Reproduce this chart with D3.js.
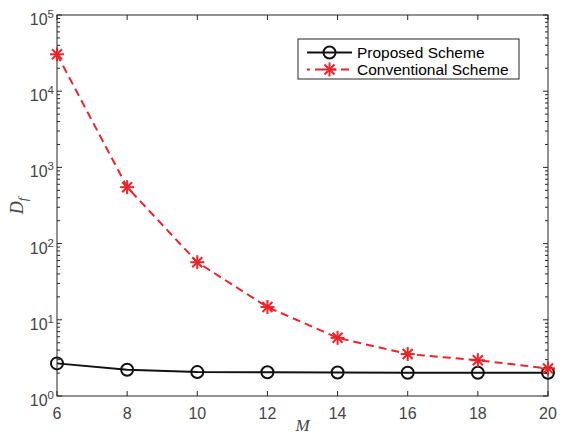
<!DOCTYPE html>
<html>
<head>
<meta charset="utf-8">
<script src="https://cdn.jsdelivr.net/npm/d3@7"></script>
<style>
  body { margin: 0; background: #fff; }
</style>
</head>
<body>
<script>
// data
const mValues = [6, 8, 10, 12, 14, 16, 18, 20];
const proposed = [2.68, 2.21, 2.06, 2.05, 2.03, 2.02, 2.02, 2.02];
const conventional = [30500, 550, 57, 14.7, 5.8, 3.55, 2.95, 2.3];
const xTicks = [6, 8, 10, 12, 14, 16, 18, 20];
const yExponents = [0, 1, 2, 3, 4, 5];
const seriesNames = ["Proposed Scheme", "Conventional Scheme"];

const width = 561, height = 435;
const margin = { left: 57, right: 13, top: 15, bottom: 39 };
const axisColor = "#262626";
const labelColor = "#454545";
const red = "#ee2229";
const sans = "'Liberation Sans', Arial, sans-serif";
const serif = "'Liberation Serif', 'Times New Roman', serif";

var svg = d3
  .select("body")
  .append("svg")
  .attr("width", width)
  .attr("height", height);

var x = d3.scaleLinear().domain([6, 20]).range([margin.left, width - margin.right]);
var y = d3.scaleLog().domain([1, 1e5]).range([height - margin.bottom, margin.top]);

// minor tick values 2..9 x 10^k
var minorTicks = [];
for (let k = 0; k < 5; k++) {
  for (let m = 2; m <= 9; m++) minorTicks.push(m * Math.pow(10, k));
}

var x0 = margin.left, x1 = width - margin.right;
var y0 = height - margin.bottom, y1 = margin.top;

var axes = svg.append("g").attr("stroke", axisColor).attr("stroke-width", 1);

// box
axes
  .append("rect")
  .attr("x", x0)
  .attr("y", y1)
  .attr("width", x1 - x0)
  .attr("height", y0 - y1)
  .attr("fill", "none");

// x ticks, bottom and top, pointing inwards
xTicks.forEach((t) => {
  axes.append("line").attr("x1", x(t)).attr("x2", x(t)).attr("y1", y0).attr("y2", y0 - 5);
  axes.append("line").attr("x1", x(t)).attr("x2", x(t)).attr("y1", y1).attr("y2", y1 + 5);
});

// y major ticks
yExponents.forEach((e) => {
  var yy = y(Math.pow(10, e));
  axes.append("line").attr("x1", x0).attr("x2", x0 + 5).attr("y1", yy).attr("y2", yy);
  axes.append("line").attr("x1", x1).attr("x2", x1 - 5).attr("y1", yy).attr("y2", yy);
});

// y minor ticks
minorTicks.forEach((v) => {
  var yy = y(v);
  axes.append("line").attr("x1", x0).attr("x2", x0 + 3).attr("y1", yy).attr("y2", yy);
  axes.append("line").attr("x1", x1).attr("x2", x1 - 3).attr("y1", yy).attr("y2", yy);
});

// x tick labels
svg
  .selectAll("xlabels")
  .data(xTicks)
  .enter()
  .append("text")
  .attr("x", (d) => x(d))
  .attr("y", y0 + 23)
  .attr("text-anchor", "middle")
  .style("font-family", sans)
  .style("font-size", "16px")
  .attr("fill", labelColor)
  .text((d) => d);

// y tick labels 10^e
var yl = svg
  .selectAll("ylabels")
  .data(yExponents)
  .enter()
  .append("text")
  .attr("x", x0 - 3)
  .attr("y", (d) => y(Math.pow(10, d)) + 10)
  .attr("text-anchor", "end")
  .style("font-family", sans)
  .style("font-size", "16px")
  .attr("fill", labelColor);
yl.append("tspan").text("10");
yl.append("tspan")
  .attr("dy", -7)
  .style("font-size", "11.5px")
  .text((d) => d);

// axis titles
svg
  .append("text")
  .attr("x", (x0 + x1) / 2)
  .attr("y", 431)
  .attr("text-anchor", "middle")
  .style("font-family", serif)
  .style("font-style", "italic")
  .style("font-size", "17px")
  .attr("fill", labelColor)
  .text("M");

var ylab = svg
  .append("text")
  .attr("transform", "translate(23,206) rotate(-90)")
  .attr("text-anchor", "middle")
  .style("font-family", serif)
  .style("font-style", "italic")
  .style("font-size", "18px")
  .attr("fill", labelColor);
ylab.append("tspan").text("D");
ylab.append("tspan").attr("dy", 4).style("font-size", "13px").text("f");

// lines
var line = d3
  .line()
  .x((d) => x(d[0]))
  .y((d) => y(d[1]));

svg
  .append("path")
  .attr("d", line(mValues.map((m, i) => [m, proposed[i]])))
  .attr("fill", "none")
  .attr("stroke", "#111")
  .attr("stroke-width", 2);

svg
  .append("path")
  .attr("d", line(mValues.map((m, i) => [m, conventional[i]])))
  .attr("fill", "none")
  .attr("stroke", red)
  .attr("stroke-width", 2)
  .attr("stroke-dasharray", "8,5");

// markers
function circleMarker(g, cx, cy) {
  g.append("circle")
    .attr("cx", cx)
    .attr("cy", cy)
    .attr("r", 6)
    .attr("fill", "none")
    .attr("stroke", "#111")
    .attr("stroke-width", 2);
}
function starMarker(g, cx, cy) {
  var r = 7, d = 5;
  var p = [
    [-r, 0, r, 0],
    [0, -r, 0, r],
    [-d, -d, d, d],
    [-d, d, d, -d],
  ];
  p.forEach((s) => {
    g.append("line")
      .attr("x1", cx + s[0])
      .attr("y1", cy + s[1])
      .attr("x2", cx + s[2])
      .attr("y2", cy + s[3])
      .attr("stroke", red)
      .attr("stroke-width", 2);
  });
}

var marks = svg.append("g");
mValues.forEach((m, i) => circleMarker(marks, x(m), y(proposed[i])));
mValues.forEach((m, i) => starMarker(marks, x(m), y(conventional[i])));

// legend
var lg = svg.append("g");
lg.append("rect")
  .attr("x", 298)
  .attr("y", 39)
  .attr("width", 221)
  .attr("height", 40)
  .attr("fill", "#fff")
  .attr("stroke", axisColor)
  .attr("stroke-width", 1);

lg.append("line").attr("x1", 307).attr("x2", 352).attr("y1", 52.5).attr("y2", 52.5)
  .attr("stroke", "#111").attr("stroke-width", 2);
circleMarker(lg, 329.5, 52.5);
lg.append("line").attr("x1", 307).attr("x2", 352).attr("y1", 69.5).attr("y2", 69.5)
  .attr("stroke", red).attr("stroke-width", 2).attr("stroke-dasharray", "8,5").attr("stroke-dashoffset", 5);
starMarker(lg, 329.5, 69.5);

lg.selectAll("legtext")
  .data(seriesNames)
  .enter()
  .append("text")
  .attr("x", 357)
  .attr("y", (d, i) => 58 + i * 17)
  .style("font-family", sans)
  .style("font-size", "15.5px")
  .attr("fill", "#000")
  .text((d) => d);
</script>
</body>
</html>
